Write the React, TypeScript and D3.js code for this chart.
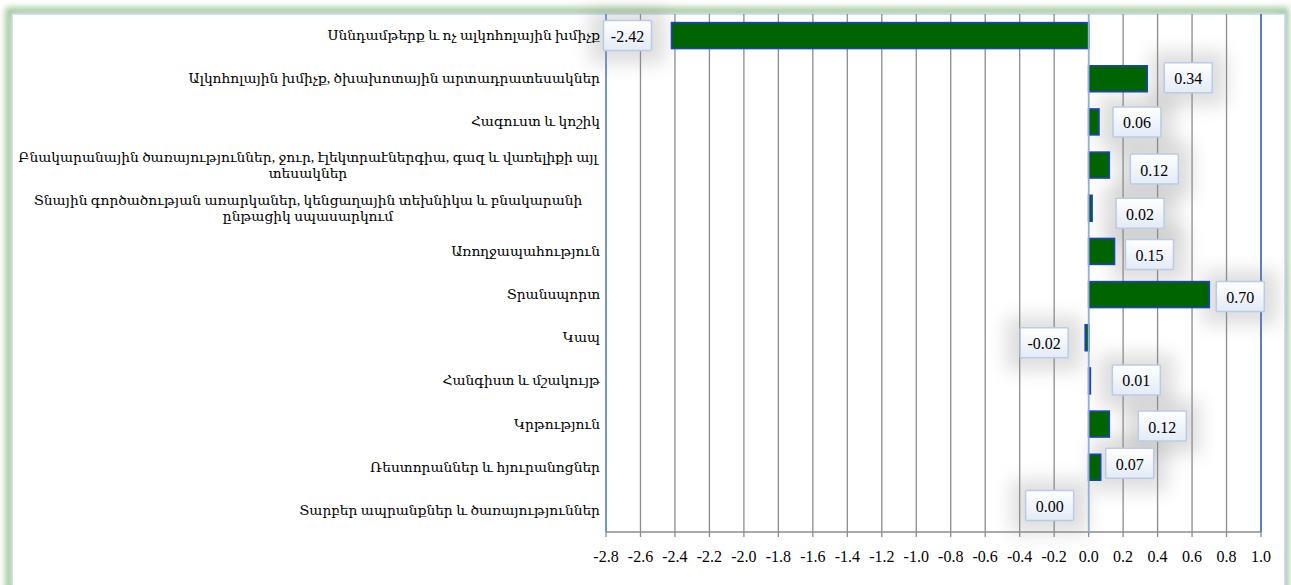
import React from "react";
import * as d3 from "d3";

const categories: string[][] = [
  ["Սննդամթերք և ոչ ալկոհոլային խմիչք"],
  ["Ալկոհոլային խմիչք, ծխախոտային արտադրատեսակներ"],
  ["Հագուստ և կոշիկ"],
  ["Բնակարանային ծառայություններ, ջուր, էլեկտրաէներգիա, գազ և վառելիքի այլ", "տեսակներ"],
  ["Տնային գործածության առարկաներ, կենցաղային տեխնիկա և բնակարանի", "ընթացիկ սպասարկում"],
  ["Առողջապահություն"],
  ["Տրանսպորտ"],
  ["Կապ"],
  ["Հանգիստ և մշակույթ"],
  ["Կրթություն"],
  ["Ռեստորաններ և հյուրանոցներ"],
  ["Տարբեր ապրանքներ և ծառայություններ"],
];
const values: number[] = [-2.42, 0.34, 0.06, 0.12, 0.02, 0.15, 0.7, -0.02, 0.01, 0.12, 0.07, 0.0];
const tickValues: number[] = [-2.8, -2.6, -2.4, -2.2, -2.0, -1.8, -1.6, -1.4, -1.2, -1.0, -0.8, -0.6, -0.4, -0.2, 0, 0.2, 0.4, 0.6, 0.8, 1.0];
// manual label nudges (dx from bar end, dy from row centre), as placed in the original
const labelDx: number[] = [-44, 41, 38, 45, 48, 35, 31, -41, 46, 53, 29, -39];
const labelDy: number[] = [0, -1, 0, 4, 5, 3, 2, 5, -1, 2, -4, -5];

const W = 1291;
const H = 585;
const plotLeft = 606;
const plotRight = 1261;
const plotTop = 14;
const plotBottom = 532;
const font = "'Liberation Serif', 'Times New Roman', 'DejaVu Serif', serif";

export default function App() {
  const x = d3.scaleLinear().domain([-2.8, 1.0]).range([plotLeft, plotRight]);
  const y = d3
    .scaleBand<number>()
    .domain(d3.range(categories.length))
    .range([plotTop, plotBottom])
    .paddingInner(0.4)
    .paddingOuter(0.2);
  const bw = y.bandwidth();
  const rowC = (i: number) => (y(i) as number) + bw / 2;

  return (
    <svg
      width={W}
      height={H}
      style={{ position: "absolute", left: 0, top: 0, display: "block" }}
      fontFamily={font}
    >
      <defs>
        <filter id="glow" x="-5%" y="-5%" width="110%" height="110%">
          <feGaussianBlur stdDeviation="3" />
        </filter>
        <filter id="lblShadow" x="-100%" y="-100%" width="300%" height="300%">
          <feGaussianBlur stdDeviation="9" />
        </filter>
        <linearGradient id="lblGrad" x1="0" y1="0" x2="0" y2="1">
          <stop offset="0%" stopColor="#ffffff" />
          <stop offset="100%" stopColor="#e3ebf6" />
        </linearGradient>
      </defs>
      <rect x={0} y={0} width={W} height={H} fill="#ffffff" />
      {/* outer frame glow */}
      <rect x={9} y={11} width={1276} height={580} fill="none" stroke="#9cc596" strokeWidth={7} filter="url(#glow)" />
      <rect x={12} y={14} width={1273} height={580} fill="#ffffff" stroke="#c5d6ee" strokeWidth={1.5} />

      {/* label shadows */}
      {values.map((v, i) => (
        <rect
          key={"sh" + i}
          x={x(v) + labelDx[i] - 38}
          y={rowC(i) + labelDy[i] - 26}
          width={76}
          height={54}
          fill="#8a8a8a"
          opacity={0.28}
          filter="url(#lblShadow)"
        />
      ))}

      {/* grid lines */}
      {tickValues.map((t, i) => (
        <line
          key={"g" + i}
          x1={x(t)}
          x2={x(t)}
          y1={plotTop}
          y2={plotBottom + 5}
          stroke="#8c8c8c"
          strokeWidth={1.3}
        />
      ))}
      {/* bottom axis line */}
      <line x1={plotLeft} x2={plotRight} y1={plotBottom} y2={plotBottom} stroke="#8c8c8c" strokeWidth={1.5} />
      {/* plot frame left/right */}
      <line x1={plotLeft} x2={plotLeft} y1={plotTop} y2={plotBottom} stroke="#6f93cc" strokeWidth={1.8} />
      <line x1={plotRight} x2={plotRight} y1={plotTop} y2={plotBottom} stroke="#5b7fbf" strokeWidth={2} />

      {/* bars */}
      {values.map((v, i) => (
        <rect
          key={"b" + i}
          x={Math.min(x(v), x(0))}
          y={y(i) as number}
          width={Math.abs(x(v) - x(0))}
          height={bw}
          fill="#006400"
          stroke="#1f3fc8"
          strokeWidth={1.6}
        />
      ))}
      {/* zero line */}
      <line x1={x(0)} x2={x(0)} y1={plotTop} y2={plotBottom} stroke="#8fb0e0" strokeWidth={1.6} />

      {/* data labels */}
      {values.map((v, i) => {
        const cx = x(v) + labelDx[i];
        const cy = rowC(i) + labelDy[i];
        return (
          <g key={"l" + i}>
            <rect x={cx - 24} y={cy - 15} width={48} height={30} fill="url(#lblGrad)" stroke="#b9cbe6" strokeWidth={1.5} rx={1} />
            <text x={cx} y={cy + 1} textAnchor="middle" dominantBaseline="central" fontSize={16} fill="#000">
              {v.toFixed(2)}
            </text>
          </g>
        );
      })}

      {/* category labels */}
      {categories.map((lines, i) => {
        const cy = rowC(i);
        if (lines.length === 1) {
          return (
            <text key={"c" + i} x={plotLeft - 6} y={cy} textAnchor="end" dominantBaseline="central" fontSize={13.8} fill="#000">
              {lines[0]}
            </text>
          );
        }
        return (
          <text key={"c" + i} x={308} y={cy - 8} textAnchor="middle" dominantBaseline="central" fontSize={13.8} fill="#000">
            {lines.map((l, k) => (
              <tspan key={k} x={308} dy={k === 0 ? 0 : 16}>
                {l}
              </tspan>
            ))}
          </text>
        );
      })}

      {/* tick labels */}
      {tickValues.map((t, i) => (
        <text key={"t" + i} x={x(t)} y={plotBottom + 24} textAnchor="middle" dominantBaseline="central" fontSize={16} fill="#000">
          {t.toFixed(1)}
        </text>
      ))}
    </svg>
  );
}
